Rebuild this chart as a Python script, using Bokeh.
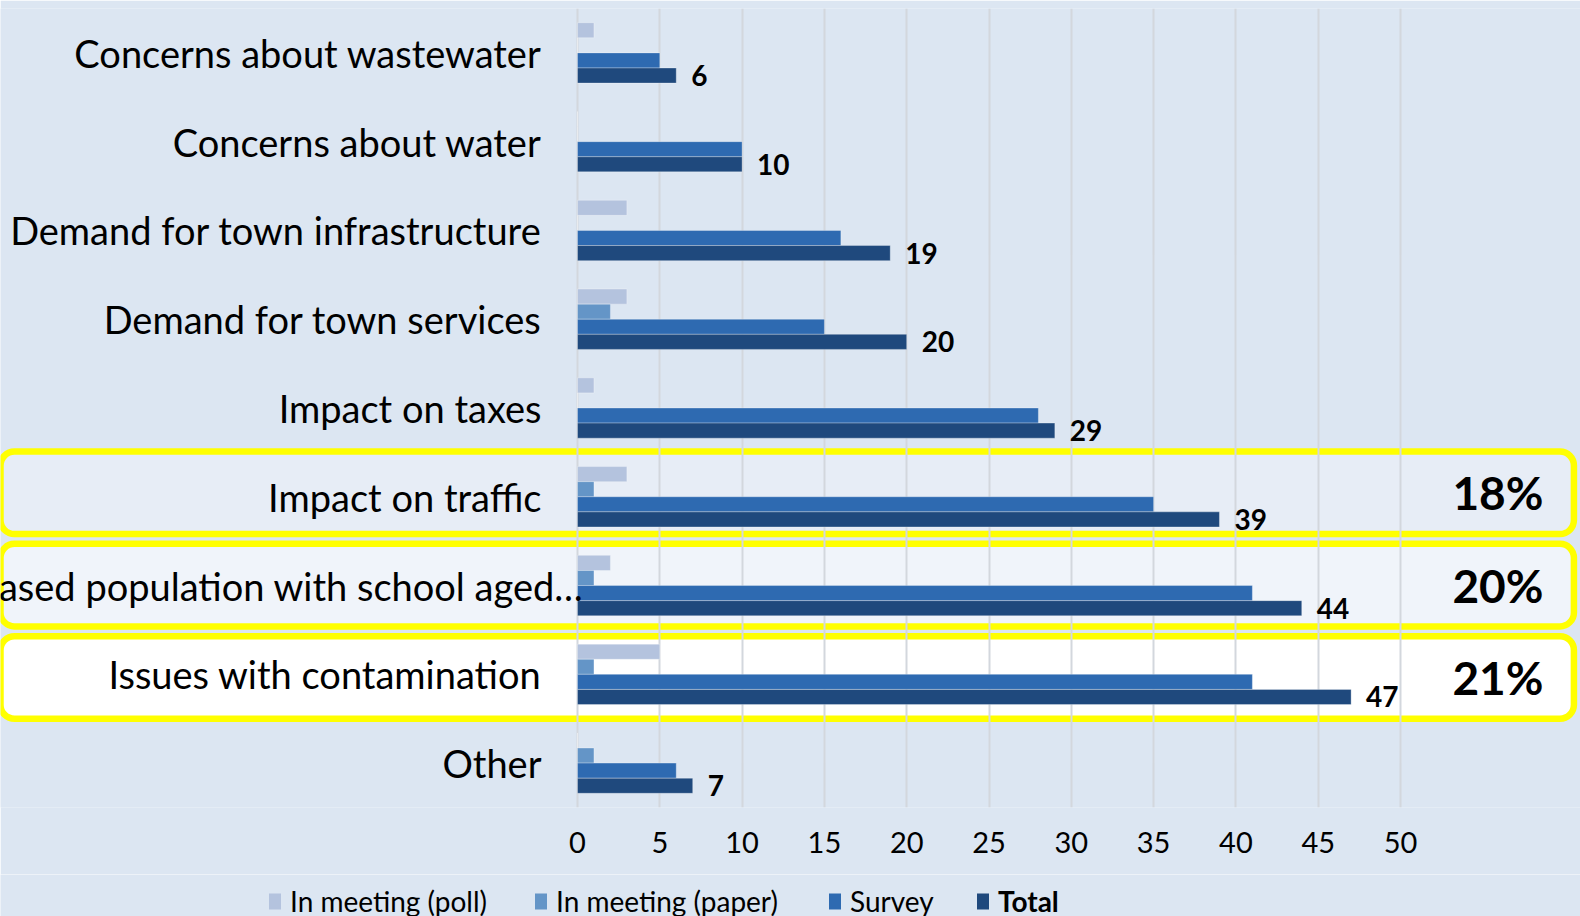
from bokeh.plotting import figure
from bokeh.layouts import column
from bokeh.models import ColumnDataSource, FactorRange, Range1d, FixedTicker, Legend, LegendItem
from bokeh.transform import dodge
from bokeh.core.properties import value
from bokeh.embed import file_html
from bokeh.resources import INLINE

# ---------------- data ----------------
categories = [
    "Concerns about wastewater",
    "Concerns about water",
    "Demand for town infrastructure",
    "Demand for town services",
    "Impact on taxes",
    "Impact on traffic",
    "Increased population with school aged\u2026",
    "Issues with contamination",
    "Other",
]
poll = [1, 0, 3, 3, 1, 3, 2, 5, 0]
paper = [0, 0, 0, 2, 0, 1, 1, 1, 1]
survey = [5, 10, 16, 15, 28, 35, 41, 41, 6]
total = [6, 10, 19, 20, 29, 39, 44, 47, 7]
series_names = ["In meeting (poll)", "In meeting (paper)", "Survey", "Total"]
tick_values = [0, 5, 10, 15, 20, 25, 30, 35, 40, 45, 50]

highlight_cats = ["Impact on traffic", "Increased population with school aged\u2026", "Issues with contamination"]
highlight_pct = ["18%", "20%", "21%"]

# ---------------- style ----------------
BG = "#dce6f2"
COLORS = ["#b4c3de", "#6495c7", "#2e6ab1", "#1f497d"]
BOX_FILLS = ["#e7edf6", "#f0f4fa", "#ffffff"]
BOX_SHIFT = [0.045, 0.005, -0.035]      # small vertical nudges of the highlight frames
FONT = "Lato"

W = 1580
H_MAIN, H_LEG = 874, 42
PX_PER_UNIT = 16.46
ZERO_PX = 577          # frame px of value 0
X0 = -ZERO_PX / PX_PER_UNIT
X1 = X0 + W / PX_PER_UNIT

src = ColumnDataSource(dict(
    cat=categories, poll=poll, paper=paper, survey=survey, total=total,
    total_str=[str(v) for v in total],
))
normal_src = ColumnDataSource(dict(cat=[c for c in categories if not c.endswith("\u2026")]))
long_src = ColumnDataSource(dict(cat=[c for c in categories if c.endswith("\u2026")]))
hl_src = ColumnDataSource(dict(
    cat=[[c, s] for c, s in zip(highlight_cats, BOX_SHIFT)],
    pct=highlight_pct, fill=BOX_FILLS,
))

p = figure(
    width=W, height=H_MAIN,
    y_range=FactorRange(factors=categories[::-1], range_padding=0),
    x_range=Range1d(X0, X1),
    output_backend="svg", toolbar_location=None,
    y_axis_location=None,
    background_fill_color=BG, border_fill_color=BG, outline_line_color=None,
    min_border_left=0, min_border_right=0, min_border_top=8, min_border_bottom=67,
)

# highlight boxes
box = p.hbar(y="cat", left=X0 - 5, right=X1 - 0.4, height=0.93, source=hl_src,
             fill_color="fill", line_color="#ffff00", line_width=6.5, border_radius=14)
box.level = "underlay"

# grid
p.xgrid.ticker = FixedTicker(ticks=tick_values)
p.xgrid.grid_line_color = "#d3d7dd"
p.xgrid.grid_line_width = 2
p.xgrid.level = "underlay"
p.ygrid.visible = False

# bars
BAR_H = 0.17
offsets = [0.255, 0.085, -0.085, -0.255]
fields = ["poll", "paper", "survey", "total"]
for field, off, col in zip(fields, offsets, COLORS):
    p.hbar(y=dodge("cat", off, range=p.y_range), left=0, right=field, height=BAR_H,
           source=src, fill_color=col, line_color="#ffffff", line_alpha=0.3, line_width=1)

# total value labels
p.text(x="total", y=dodge("cat", -0.255, range=p.y_range), text="total_str", source=src,
       x_offset=15, text_align="left", text_baseline="middle",
       text_font=value(FONT), text_font_style="bold", text_font_size="28px", text_color="#000000")

# category labels
p.text(x=0, y="cat", text="cat", source=normal_src, x_offset=-36,
       text_align="right", text_baseline="middle",
       text_font=value(FONT), text_font_size="38px", text_color="#000000")
p.text(x=0, y="cat", text="cat", source=long_src, x_offset=6,
       text_align="right", text_baseline="middle",
       text_font=value(FONT), text_font_size="38px", text_color="#000000")

# percentages
p.text(x=50, y="cat", text="pct", source=hl_src, x_offset=143,
       text_align="right", text_baseline="middle",
       text_font=value(FONT), text_font_style="bold", text_font_size="46px", text_color="#000000")

# x axis
ax = p.xaxis[0]
ax.ticker = FixedTicker(ticks=tick_values)
ax.axis_line_color = None
ax.major_tick_line_color = None
ax.minor_tick_line_color = None
ax.major_tick_out = 0
ax.minor_tick_out = 0
ax.major_label_text_font = FONT
ax.major_label_text_font_size = "29px"
ax.major_label_text_color = "#000000"
ax.major_label_standoff = 24

# ---------------- legend strip ----------------
pl = figure(
    width=W, height=H_LEG, x_range=Range1d(0, 1), y_range=Range1d(0, 1),
    output_backend="svg", toolbar_location=None,
    x_axis_location=None, y_axis_location=None,
    background_fill_color=BG, border_fill_color=BG, outline_line_color=None,
    min_border_left=0, min_border_right=0, min_border_top=0, min_border_bottom=0,
)
pl.xgrid.visible = False
pl.ygrid.visible = False
# legend proxies (kept outside the visible range of the strip)
leg_renderers = [pl.hbar(y=[-5], left=[0], right=[1], height=0.1, fill_color=c, line_color=None)
                 for c in COLORS]

legend_x = [267, 533, 827, 975]
for name, r, lx in zip(series_names, leg_renderers, legend_x):
    leg = Legend(items=[LegendItem(label=name, renderers=[r])], location=(lx, -2),
                 orientation="horizontal", background_fill_alpha=0, border_line_color=None,
                 padding=0, margin=0, glyph_width=15, glyph_height=20, label_standoff=8,
                 label_height=28, label_text_font=FONT, label_text_font_size="28px",
                 label_text_color="#000000",
                 label_text_font_style="bold" if name == "Total" else "normal")
    pl.add_layout(leg)

layout = column(p, pl, spacing=0)
open("out.html", "w").write(file_html(layout, INLINE))
